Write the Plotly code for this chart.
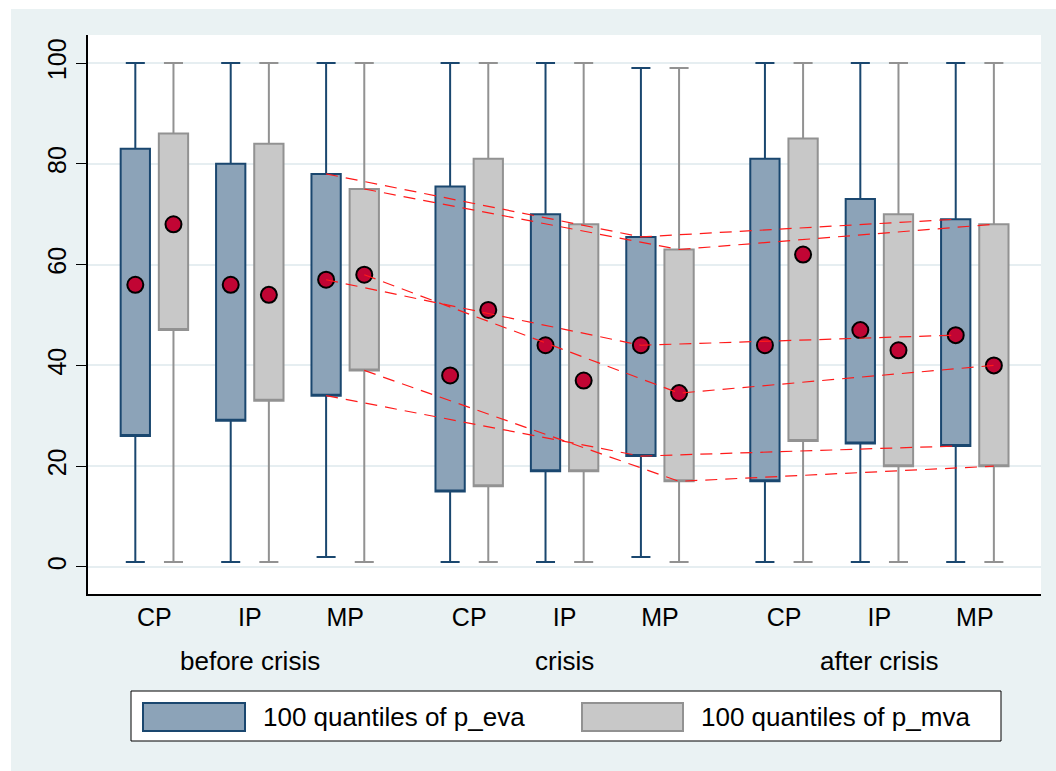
import plotly.graph_objects as go

# Categories and periods
periods = ["before crisis", "crisis", "after crisis"]
cats = ["CP", "IP", "MP"]

# Box statistics for each period x category (9 groups, period-major order)
eva_lo = [1, 1, 2, 1, 1, 2, 1, 1, 1]
eva_q1 = [26, 29, 34, 15, 19, 22, 17, 24.5, 24]
eva_q3 = [83, 80, 78, 75.5, 70, 65.5, 81, 73, 69]
eva_hi = [100, 100, 100, 100, 100, 99, 100, 100, 100]
eva_mean = [56, 56, 57, 38, 44, 44, 44, 47, 46]

mva_lo = [1, 1, 1, 1, 1, 1, 1, 1, 1]
mva_q1 = [47, 33, 39, 16, 19, 17, 25, 20, 20]
mva_q3 = [86, 84, 75, 81, 68, 63, 85, 70, 68]
mva_hi = [100, 100, 100, 100, 100, 99, 100, 100, 100]
mva_mean = [68, 54, 58, 51, 37, 34.5, 62, 43, 40]

# Layout of the categorical axis
PERIOD_STEP = 3.3
OFFSET = 0.2
BOX_W = 0.307

centers = [p * PERIOD_STEP + c for p in range(len(periods)) for c in range(len(cats))]
x_eva = [v - OFFSET for v in centers]
x_mva = [v + OFFSET for v in centers]

NAVY = "#1A476F"
EVA_FILL = "#8CA3B8"
GRAY_LINE = "#929292"
MVA_FILL = "#C8C8C8"
DOT = "#C10534"
BG = "#EAF2F3"
FONT = "Liberation Sans, Arial, Helvetica, sans-serif"

fig = go.Figure()

# Boxes (median placed on the lower hinge so no inner median line shows)
fig.add_trace(go.Box(
    x=x_eva, q1=eva_q1, median=eva_q1, q3=eva_q3,
    lowerfence=eva_lo, upperfence=eva_hi,
    width=BOX_W, whiskerwidth=0.65,
    fillcolor=EVA_FILL, line=dict(color=NAVY, width=2),
    boxpoints=False, hoverinfo="skip", showlegend=False,
))
fig.add_trace(go.Box(
    x=x_mva, q1=mva_q1, median=mva_q1, q3=mva_q3,
    lowerfence=mva_lo, upperfence=mva_hi,
    width=BOX_W, whiskerwidth=0.65,
    fillcolor=MVA_FILL, line=dict(color=GRAY_LINE, width=2),
    boxpoints=False, hoverinfo="skip", showlegend=False,
))

# Mean markers
for xs, ms in ((x_eva, eva_mean), (x_mva, mva_mean)):
    fig.add_trace(go.Scatter(
        x=xs, y=ms, mode="markers",
        marker=dict(size=16, color=DOT, line=dict(color="black", width=2)),
        hoverinfo="skip", showlegend=False,
    ))

# Dashed trend lines across periods for the MP group (q3, mean, q1)
mp_idx = [i for i in range(len(centers)) if i % len(cats) == cats.index("MP")]
for xs, series in ((x_eva, (eva_q3, eva_mean, eva_q1)), (x_mva, (mva_q3, mva_mean, mva_q1))):
    for vals in series:
        fig.add_trace(go.Scatter(
            x=[xs[i] for i in mp_idx], y=[vals[i] for i in mp_idx],
            mode="lines", line=dict(color="#FF1A1A", width=1.2, dash="12px,8px"),
            hoverinfo="skip", showlegend=False,
        ))

W, H = 953, 559
L, T = 88, 35


def px(xp):
    return (xp - L) / W


def py(yp):
    return (T + H - yp) / H


shapes = [
    # white outer margin on the top and left
    dict(type="rect", xref="paper", yref="paper", x0=px(0), x1=px(11), y0=py(771), y1=py(0),
         fillcolor="white", line=dict(width=0), layer="below"),
    dict(type="rect", xref="paper", yref="paper", x0=px(0), x1=px(1056), y0=py(9), y1=py(0),
         fillcolor="white", line=dict(width=0), layer="below"),
    # legend frame
    dict(type="rect", xref="paper", yref="paper", x0=px(131), x1=px(1001), y0=py(741), y1=py(691),
         fillcolor="white", line=dict(color="black", width=1)),
    dict(type="rect", xref="paper", yref="paper", x0=px(143), x1=px(245), y0=py(731), y1=py(703),
         fillcolor=EVA_FILL, line=dict(color=NAVY, width=2)),
    dict(type="rect", xref="paper", yref="paper", x0=px(582), x1=px(683), y0=py(731), y1=py(703),
         fillcolor=MVA_FILL, line=dict(color=GRAY_LINE, width=2)),
]

annotations = [
    dict(text=name, x=p * PERIOD_STEP + 1, xref="x", y=py(661), yref="paper",
         xanchor="center", yanchor="middle",
         showarrow=False, font=dict(size=26, color="black", family=FONT))
    for p, name in enumerate(periods)
]
annotations += [
    dict(text="100 quantiles of p_eva", x=px(261), y=py(717), xref="paper", yref="paper",
         xanchor="left", yanchor="middle", showarrow=False,
         font=dict(size=26, color="black", family=FONT)),
    dict(text="100 quantiles of p_mva", x=px(699), y=py(717), xref="paper", yref="paper",
         xanchor="left", yanchor="middle", showarrow=False,
         font=dict(size=26, color="black", family=FONT)),
]

fig.update_layout(
    width=1056, height=771,
    margin=dict(l=L, r=1056 - L - W, t=T, b=771 - T - H),
    paper_bgcolor=BG, plot_bgcolor="white",
    font=dict(family=FONT, size=25, color="black"),
    shapes=shapes, annotations=annotations,
    showlegend=False,
)
fig.update_xaxes(
    range=[-0.696, 9.294], tickvals=centers, ticktext=cats * len(periods),
    showgrid=False, zeroline=False, showline=True, linecolor="black", linewidth=1.5,
    ticks="", tickfont=dict(size=25),
)
fig.update_yaxes(
    range=[-5.36, 105.56], tickvals=[0, 20, 40, 60, 80, 100],
    showgrid=True, gridcolor="#E6EEF1", gridwidth=2, zeroline=False,
    showline=True, linecolor="black", linewidth=1.5,
    ticks="outside", ticklen=10, tickcolor="black", tickwidth=1.2,
    tickangle=-90, tickfont=dict(size=25),
)

fig.write_html("out.html")
